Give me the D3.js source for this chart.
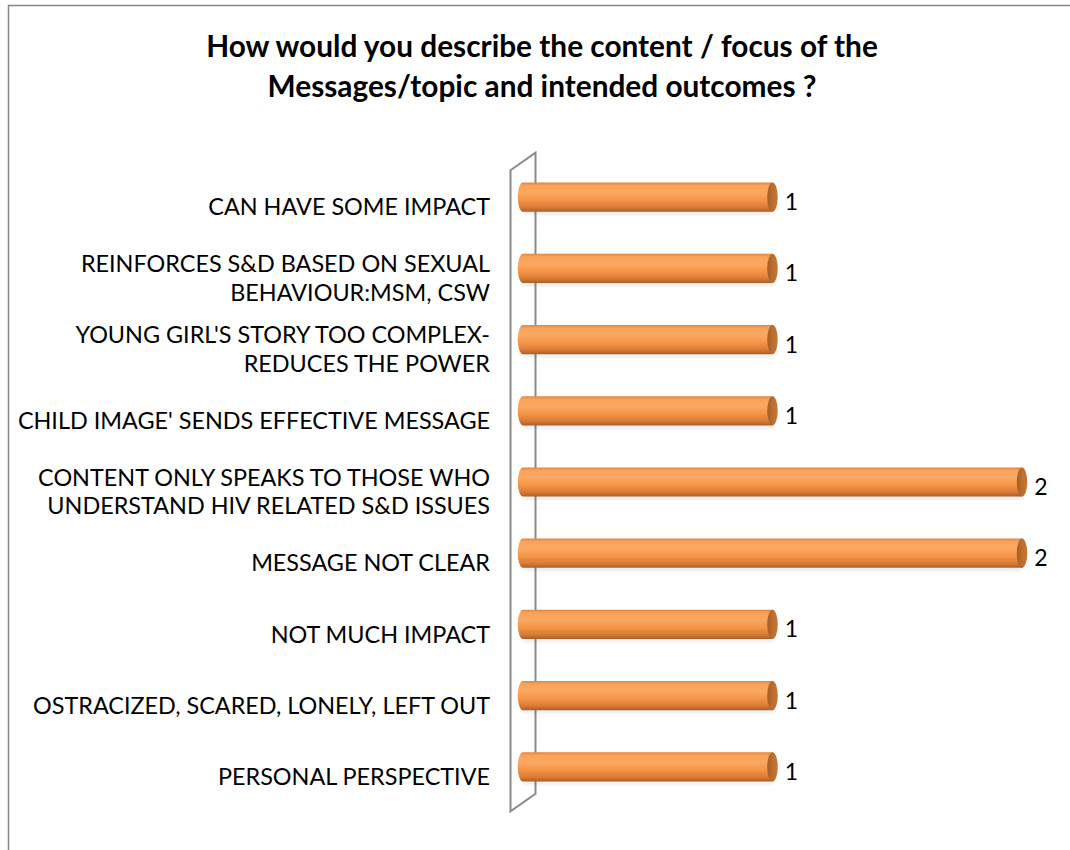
<!DOCTYPE html>
<html>
<head>
<meta charset="utf-8">
<script src="https://cdn.jsdelivr.net/npm/d3@7"></script>
<style>
  html, body { margin: 0; padding: 0; background: #fff; }
  svg { display: block; }
</style>
</head>
<body>
<svg id="chart" width="1070" height="850"></svg>
<script>
// Survey responses, listed top to bottom as drawn
const categories = [
  ["CAN HAVE SOME IMPACT"],
  ["REINFORCES S&D BASED ON SEXUAL", "BEHAVIOUR:MSM, CSW"],
  ["YOUNG GIRL'S STORY TOO COMPLEX-", "REDUCES THE POWER"],
  ["CHILD IMAGE' SENDS EFFECTIVE MESSAGE"],
  ["CONTENT ONLY SPEAKS TO THOSE WHO", "UNDERSTAND HIV RELATED S&D ISSUES"],
  ["MESSAGE NOT CLEAR"],
  ["NOT MUCH IMPACT"],
  ["OSTRACIZED, SCARED, LONELY, LEFT OUT"],
  ["PERSONAL PERSPECTIVE"]
];
const counts = [1, 1, 1, 1, 2, 2, 1, 1, 1];
const titleLines = [
  "How would you describe the content / focus of the",
  "Messages/topic and intended outcomes ?"
];
const valueDomain = [0, 2];

const svg = d3.select("#chart");
const W = 1070, H = 850;
const FONT = "Lato, 'Open Sans', sans-serif";

// Outer chart frame
svg.append("rect")
  .attr("x", 8.5).attr("y", 5.5)
  .attr("width", W + 20).attr("height", H + 20)
  .attr("fill", "#fff").attr("stroke", "#878787").attr("stroke-width", 1.5);

// Title
svg.append("g").selectAll("text").data(titleLines).join("text")
  .attr("x", 542).attr("y", (d, i) => 57 + i * 40)
  .attr("text-anchor", "middle")
  .attr("font-family", FONT).attr("font-weight", "bold")
  .attr("font-size", 29.8).attr("fill", "#000")
  .text(d => d);

// Scales
const idx = categories.map((d, i) => i);
const y = d3.scaleBand().domain(idx).range([161.5, 802.5]).paddingInner(0.59).paddingOuter(0.295);
const x = d3.scaleLinear().domain(valueDomain).range([523, 1022]);

// 3-D depth of the side wall
const depthX = 25, depthY = -17.5;

// Side wall (the vertical axis plane)
const y0 = y.range()[0], y1 = y.range()[1];
const x0 = x(0);
const wallPts = [
  [x0 - depthX / 2, y0 - depthY / 2],
  [x0 + depthX / 2, y0 + depthY / 2],
  [x0 + depthX / 2, y1 + depthY / 2],
  [x0 - depthX / 2, y1 - depthY / 2]
];
svg.append("path")
  .attr("d", d3.line()(wallPts) + "Z")
  .attr("fill", "#fff").attr("stroke", "#8a8a8a").attr("stroke-width", 2)
  .attr("stroke-linejoin", "miter");

// Gradients for the cylinders
const defs = svg.append("defs");
const body = defs.append("linearGradient").attr("id", "cylBody")
  .attr("x1", 0).attr("y1", 0).attr("x2", 0).attr("y2", 1);
[["0%", "#e3843c"], ["10%", "#f9a25a"], ["35%", "#fba862"], ["60%", "#f59548"], ["85%", "#d97b35"], ["100%", "#a95f27"]]
  .forEach(([o, c]) => body.append("stop").attr("offset", o).attr("stop-color", c));
const cap = defs.append("linearGradient").attr("id", "cylCap")
  .attr("x1", 0).attr("y1", 0).attr("x2", 1).attr("y2", 0);
[["0%", "#a45c26"], ["50%", "#bb6e30"], ["100%", "#c77734"]]
  .forEach(([o, c]) => cap.append("stop").attr("offset", o).attr("stop-color", c));
const shadow = defs.append("filter").attr("id", "soft").attr("x", "-5%").attr("y", "-50%").attr("width", "110%").attr("height", "200%");
shadow.append("feGaussianBlur").attr("stdDeviation", 2.5);

const bh = y.bandwidth();
const rx = bh * 0.18;

const bars = svg.append("g").selectAll("g").data(idx).join("g");

// faint floor shadow under each cylinder
bars.append("rect")
  .attr("x", x(0)).attr("y", i => y(i) + bh - 2)
  .attr("width", i => x(counts[i]) - x(0)).attr("height", 4)
  .attr("fill", "#000").attr("opacity", 0.12).attr("filter", "url(#soft)");

// cylinder body, rounded at the start
bars.append("path")
  .attr("d", i => {
    const xs = x(0), xe = x(counts[i]), t = y(i), b = y(i) + bh;
    return `M${xe},${t} L${xs},${t} A${rx},${bh / 2} 0 0 0 ${xs},${b} L${xe},${b} Z`;
  })
  .attr("fill", "url(#cylBody)");

// end cap
bars.append("ellipse")
  .attr("cx", i => x(counts[i])).attr("cy", i => y(i) + bh / 2)
  .attr("rx", rx).attr("ry", bh / 2)
  .attr("fill", "url(#cylCap)");

// value labels
bars.append("text")
  .attr("x", i => x(counts[i]) + rx + 7)
  .attr("y", i => y(i) + bh / 2 + 5)
  .attr("dy", "0.35em")
  .attr("font-family", FONT).attr("font-size", 23).attr("fill", "#000")
  .text(i => counts[i]);

// category labels, right-aligned against the wall
const labelG = svg.append("g").selectAll("text").data(idx).join("text")
  .attr("text-anchor", "end")
  .attr("font-family", FONT).attr("font-size", 23.4).attr("fill", "#000");
labelG.each(function (i) {
  const lines = categories[i];
  const cy = y(i) + bh / 2 + 10;
  const lh = 28.5;
  d3.select(this).selectAll("tspan").data(lines).join("tspan")
    .attr("x", 490)
    .attr("y", (d, k) => cy + (k - (lines.length - 1) / 2) * lh)
    .attr("dy", "0.35em")
    .text(d => d);
});
</script>
</body>
</html>
